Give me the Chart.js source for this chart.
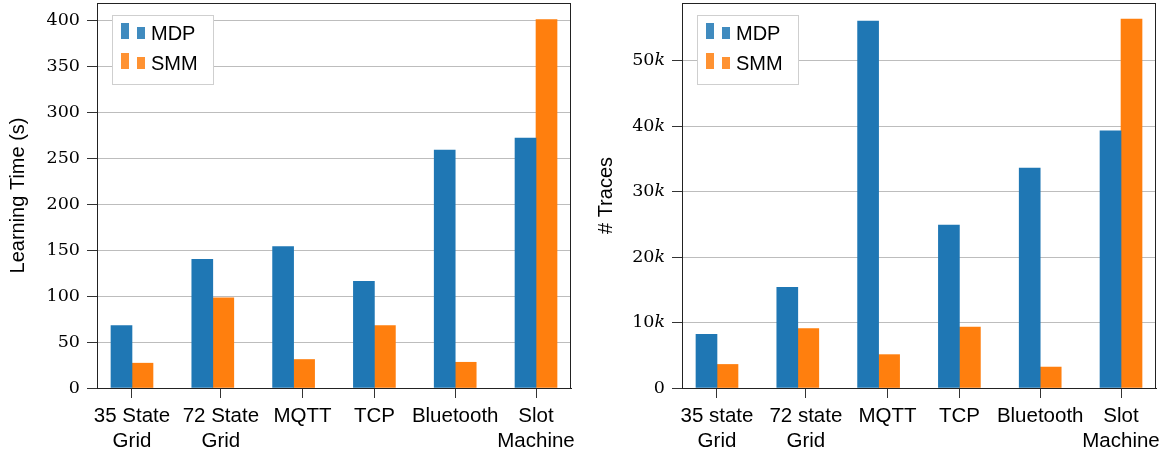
<!DOCTYPE html>
<html>
<head>
<meta charset="utf-8">
<script src="https://cdn.jsdelivr.net/npm/chart.js@4.4.1/dist/chart.umd.min.js"></script>
<style>
  html, body { margin: 0; padding: 0; background: #fff; }
  #wrap { position: relative; width: 1167px; height: 454px; }
  #left { position: absolute; left: 0; top: 0; }
  #right { position: absolute; left: 583px; top: 0; }
</style>
</head>
<body>
<div id="wrap">
  <canvas id="left" width="583" height="454"></canvas>
  <canvas id="right" width="584" height="454"></canvas>
</div>
<script>
// Data
const labels_time = [['35 State', 'Grid'], ['72 State', 'Grid'], 'MQTT', 'TCP', 'Bluetooth', ['Slot', 'Machine']]
const labels_traces = [['35 state', 'Grid'], ['72 state', 'Grid'], 'MQTT', 'TCP', 'Bluetooth', ['Slot', 'Machine']]

// where the category ticks sit (the original has two of them slightly shifted)
const tick_pos = [0, 1.1, 2.11, 3, 4, 5]

// learning time in seconds
const time_mdp = [68, 140, 154, 116, 259, 272]
const time_smm = [27, 98, 31, 68, 28, 401]

// number of traces, in thousands (k)
const traces_mdp = [8.2, 15.4, 56.1, 24.9, 33.6, 39.3]
const traces_smm = [3.6, 9.1, 5.1, 9.3, 3.2, 56.4]

const series_names = ['MDP', 'SMM']
const colors = ['#1f77b4', '#ff7f0e']

const sans = 'Liberation Sans, Arial, sans-serif'
const serif = 'DejaVu Serif, serif'

// Frame around the plot area
const framePlugin = {
  id: 'frame',
  afterDatasetsDraw(chart) {
    const a = chart.chartArea
    const ctx = chart.ctx
    ctx.save()
    ctx.strokeStyle = '#222'
    ctx.lineWidth = 1
    ctx.strokeRect(Math.round(a.left) + 0.5, Math.round(a.top) + 0.5, Math.round(a.right - a.left) - 1, Math.round(a.bottom - a.top))
    ctx.restore()
  }
}

// pgfplots style legend (two small bars per entry)
const legendPlugin = {
  id: 'barLegend',
  afterDraw(chart) {
    const a = chart.chartArea
    const ctx = chart.ctx
    const x0 = Math.round(a.left) + 15
    const y0 = Math.round(a.top) + 12
    ctx.save()
    ctx.fillStyle = '#fff'
    ctx.fillRect(x0, y0, 101, 69)
    ctx.strokeStyle = '#cfcfcf'
    ctx.lineWidth = 1
    ctx.strokeRect(x0 + 0.5, y0 + 0.5, 101, 69)
    series_names.forEach((name, i) => {
      const dy = i * 30
      ctx.fillStyle = colors[i]
      ctx.globalAlpha = 0.85
      ctx.fillRect(x0 + 9, y0 + 8 + dy, 8, 16)
      ctx.fillRect(x0 + 25, y0 + 12 + dy, 8, 12)
      ctx.globalAlpha = 1
      ctx.fillStyle = '#000'
      ctx.font = '20px ' + sans
      ctx.textBaseline = 'alphabetic'
      ctx.fillText(name, x0 + 39, y0 + 25 + dy)
    })
    ctx.restore()
  }
}

function makeChart(canvas, cats, mdp, smm, yOpts) {
  return new Chart(canvas, {
    type: 'bar',
    data: {
      datasets: [
        { label: series_names[0], data: mdp.map((v, i) => ({ x: i, y: v })), backgroundColor: colors[0], barThickness: 21 },
        { label: series_names[1], data: smm.map((v, i) => ({ x: i, y: v })), backgroundColor: colors[1], barThickness: 21 }
      ]
    },
    options: {
      responsive: false,
      animation: false,
      layout: { padding: { top: 3, right: yOpts.padRight, bottom: 0, left: 0 } },
      plugins: { legend: { display: false }, tooltip: { enabled: false } },
      scales: {
        x: {
          type: 'linear',
          offset: false,
          min: -0.433,
          max: 5.433,
          afterBuildTicks(scale) { scale.ticks = tick_pos.map((p) => ({ value: p })) },
          afterFit(scale) {
            scale.height = 66
            scale.paddingLeft = 0
            scale.paddingRight = 0
          },
          grid: { offset: false, drawOnChartArea: false, drawTicks: true, tickLength: 10, tickColor: '#333' },
          border: { display: true, color: '#222' },
          ticks: {
            autoSkip: false,
            maxRotation: 0,
            padding: 6,
            color: '#000',
            font: { family: sans, size: 20.5, lineHeight: 1.22 },
            callback: (v, i) => cats[i]
          }
        },
        y: {
          min: 0,
          max: yOpts.max,
          afterFit(scale) {
            scale.width = yOpts.width
            scale.paddingTop = 0
            scale.paddingBottom = 0
          },
          grid: { color: '#bdbdbd', tickLength: 10, tickColor: '#333' },
          border: { display: true, color: '#222' },
          title: {
            display: true,
            text: yOpts.title,
            color: '#000',
            font: { family: sans, size: 20 },
            padding: { top: yOpts.titlePad, bottom: 0 }
          },
          ticks: {
            stepSize: yOpts.step,
            includeBounds: false,
            padding: 7,
            color: '#000',
            font: { family: serif, size: 17.5 },
            callback: yOpts.fmt
          }
        }
      }
    },
    plugins: [framePlugin, legendPlugin]
  })
}

let grafico_time = makeChart(document.getElementById('left'), labels_time, time_mdp, time_smm, {
  max: 419, step: 50, width: 97, padRight: 12, title: 'Learning Time (s)', titlePad: 6,
  fmt: (v) => String(v)
})

let grafico_traces = makeChart(document.getElementById('right'), labels_traces, traces_mdp, traces_smm, {
  max: 58.85, step: 10, width: 99, padRight: 11, title: '# Traces', titlePad: 11,
  fmt: (v) => v === 0 ? '0' : v + '\u{1D458}'
})
</script>
</body>
</html>
